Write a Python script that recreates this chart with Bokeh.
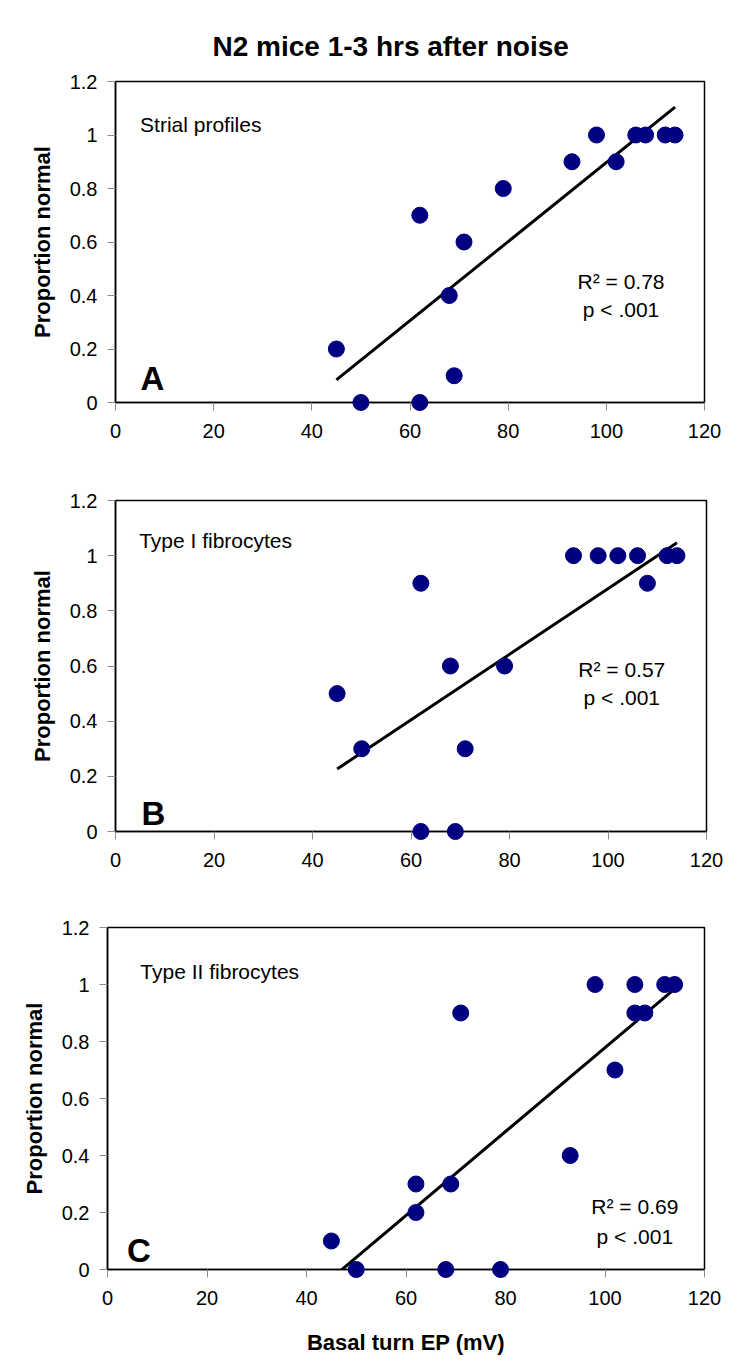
import numpy as np
from bokeh.plotting import figure
from bokeh.layouts import column, row
from bokeh.models import Range1d, FixedTicker, Label
from bokeh.embed import file_html
from bokeh.resources import INLINE

# ---------------- data ----------------
title_text = "N2 mice 1-3 hrs after noise"
x_label = "Basal turn EP (mV)"
y_label = "Proportion normal"
x_ticks = [0, 20, 40, 60, 80, 100, 120]
y_ticks = [0, 0.2, 0.4, 0.6, 0.8, 1, 1.2]
y_tick_labels = ["0", "0.2", "0.4", "0.6", "0.8", "1", "1.2"]

ep_a = [45, 50, 62, 62, 68, 69, 71, 79, 93, 98, 102, 106, 108, 112, 114]
prop_a = [0.2, 0, 0, 0.7, 0.4, 0.1, 0.6, 0.8, 0.9, 1, 0.9, 1, 1, 1, 1]

ep_b = [45, 50, 62, 62, 68, 69, 71, 79, 93, 98, 102, 106, 108, 112, 114]
prop_b = [0.5, 0.3, 0.9, 0, 0.6, 0, 0.3, 0.6, 1, 1, 1, 1, 0.9, 1, 1]

ep_c = [45, 50, 62, 62, 68, 69, 71, 79, 93, 98, 102, 106, 106, 108, 112, 114]
prop_c = [0.1, 0, 0.3, 0.2, 0, 0.3, 0.9, 0, 0.4, 1, 0.7, 1, 0.9, 0.9, 1, 1]

panel_names = ["Strial profiles", "Type I fibrocytes", "Type II fibrocytes"]
panel_letters = ["A", "B", "C"]
r2_texts = ["R\u00b2 = 0.78", "R\u00b2 = 0.57", "R\u00b2 = 0.69"]
p_texts = ["p < .001", "p < .001", "p < .001"]

FONT = "Liberation Sans"
NAVY = "#000080"


def make_panel(xs, ys, name, letter, r2, ptxt, cfg):
    p = figure(width=724, height=cfg["h"], output_backend="svg", toolbar_location=None,
               x_range=Range1d(0, 120), y_range=Range1d(0, 1.2),
               min_border_left=cfg["bl"], min_border_right=cfg["br"],
               min_border_top=cfg["bt"], min_border_bottom=cfg["bb"])
    p.background_fill_color = "white"
    p.border_fill_color = "white"
    p.outline_line_color = "black"
    p.outline_line_width = 1.5
    p.grid.visible = False

    for ax in (p.xaxis[0], p.yaxis[0]):
        ax.axis_line_color = "black"
        ax.axis_line_width = 1.5
        ax.major_tick_line_color = "#8c8c8c"
        ax.major_tick_line_width = 1
        ax.major_tick_in = 0
        ax.major_tick_out = 8
        ax.minor_tick_line_color = None
        ax.major_label_text_font = FONT
        ax.major_label_text_font_size = "20px"
        ax.major_label_text_color = "black"
        ax.axis_label_text_font = FONT
        ax.axis_label_text_font_size = "22px"
        ax.axis_label_text_font_style = "bold"
        ax.axis_label_text_color = "black"

    p.xaxis.ticker = FixedTicker(ticks=x_ticks)
    p.yaxis.ticker = FixedTicker(ticks=y_ticks)
    p.yaxis.major_label_overrides = dict(zip(y_ticks, y_tick_labels))
    p.xaxis.major_label_standoff = 13
    p.yaxis.major_label_standoff = 10
    p.yaxis.axis_label = y_label
    p.yaxis.axis_label_standoff = 12

    fit = np.polyfit(xs, ys, 1)
    lx = np.array([min(xs), max(xs)], dtype=float)
    p.line(lx, np.polyval(fit, lx), line_color="black", line_width=3)

    p.scatter(xs, ys, size=16, fill_color=NAVY, line_color=NAVY, level="overlay")

    p.add_layout(Label(x=cfg["nx"], y=cfg["ny"], text=name, text_font=FONT,
                       text_font_size="21px", text_color="black",
                       text_baseline="alphabetic"))
    p.add_layout(Label(x=cfg["lx"], y=cfg["ly"], text=letter, text_font=FONT,
                       text_font_size="33px", text_font_style="bold",
                       text_color="black", text_baseline="alphabetic"))
    p.add_layout(Label(x=cfg["rx"], y=cfg["ry"], text=r2, text_font=FONT,
                       text_font_size="21px", text_color="black",
                       text_align="center", text_baseline="alphabetic"))
    p.add_layout(Label(x=cfg["rx"], y=cfg["py"], text=ptxt, text_font=FONT,
                       text_font_size="21px", text_color="black",
                       text_align="center", text_baseline="alphabetic"))
    return p


cfg_a = dict(h=456, bl=115, br=20, bt=81, bb=54, nx=5.0, ny=1.038, lx=5.1, ly=0.09,
             rx=103, ry=0.454, py=0.349)
cfg_b = dict(h=424, bl=115, br=18, bt=44, bb=49, nx=4.8, ny=1.054, lx=5.3, ly=0.065,
             rx=102.8, ry=0.588, py=0.485)
cfg_c = dict(h=482, bl=107, br=20, bt=47, bb=93, nx=6.6, ny=1.044, lx=3.9, ly=0.068,
             rx=106, ry=0.22, py=0.117)

pa = make_panel(ep_a, prop_a, panel_names[0], panel_letters[0], r2_texts[0], p_texts[0], cfg_a)
pb = make_panel(ep_b, prop_b, panel_names[1], panel_letters[1], r2_texts[1], p_texts[1], cfg_b)
pc = make_panel(ep_c, prop_c, panel_names[2], panel_letters[2], r2_texts[2], p_texts[2], cfg_c)

pa.title.text = title_text
pa.title.text_font = FONT
pa.title.text_font_size = "28px"
pa.title.text_font_style = "bold"
pa.title.text_color = "black"
pa.title.align = "left"
pa.title.offset = 97
pa.title.standoff = 40

pc.xaxis.axis_label = x_label
pc.xaxis.axis_label_standoff = 22

layout = column(row(pa), row(pb), row(pc), spacing=0)

open("out.html", "w").write(file_html(layout, INLINE))
